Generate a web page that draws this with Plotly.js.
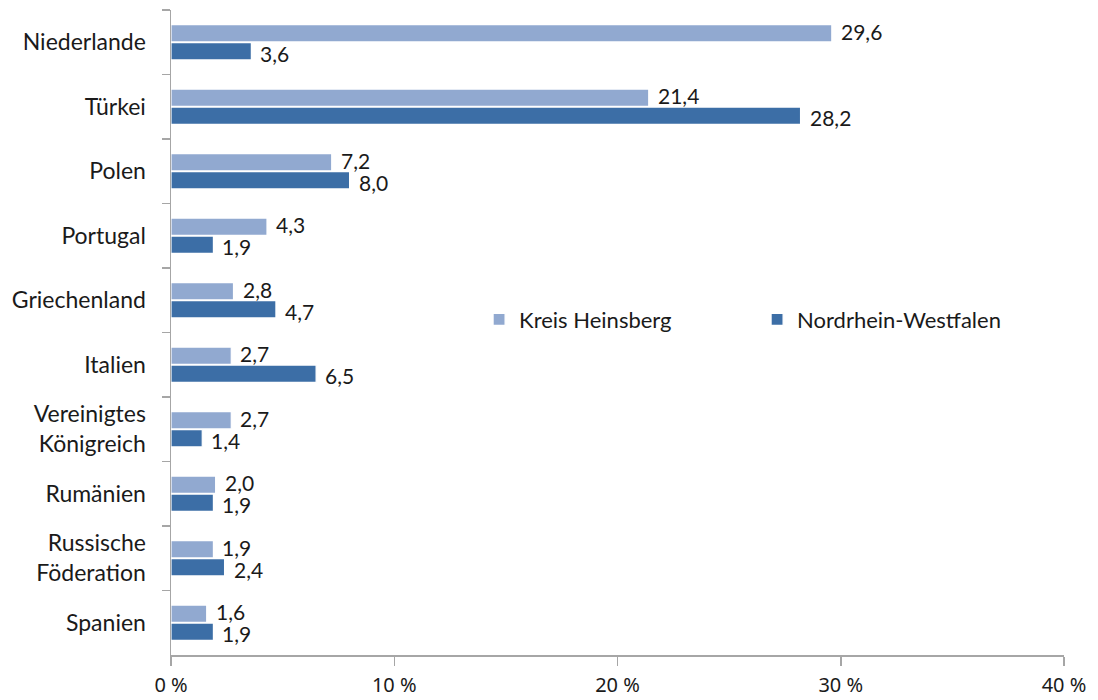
<!DOCTYPE html>
<html>
<head>
<meta charset="utf-8">
<script src="https://cdn.plot.ly/plotly-3.0.1.min.js"></script>
<style>html,body{margin:0;padding:0;background:#fff;}#chart{width:1098px;height:700px;}</style>
</head>
<body>
<div id="chart"></div>
<script>
var categories = ["Niederlande", "Türkei", "Polen", "Portugal", "Griechenland", "Italien",
  "Vereinigtes<br>Königreich", "Rumänien", "Russische<br>Föderation", "Spanien"];
var seriesNames = ["Kreis Heinsberg", "Nordrhein-Westfalen"];
var heinsberg = [29.6, 21.4, 7.2, 4.3, 2.8, 2.7, 2.7, 2.0, 1.9, 1.6];
var nrw = [3.6, 28.2, 8.0, 1.9, 4.7, 6.5, 1.4, 1.9, 2.4, 1.9];
var xTickVals = [0, 10, 20, 30, 40];
var xTickText = ["0 %", "10 %", "20 %", "30 %", "40 %"];

function fmt(v){ return v.toFixed(1).replace('.', ','); }

var labelFont = {family: "Lato, 'Noto Sans', sans-serif", size: 21, color: "#1a1a1a"};

var traces = [
  {type: "bar", orientation: "h", name: seriesNames[0], y: categories, x: heinsberg,
   marker: {color: "#91A9D0", line: {color: "#ffffff", width: 1.2}}, hoverinfo: "x+y"},
  {type: "bar", orientation: "h", name: seriesNames[1], y: categories, x: nrw,
   marker: {color: "#3C6EA6", line: {color: "#ffffff", width: 1.2}}, hoverinfo: "x+y"}
];

var annotations = [];
categories.forEach(function(c, i){
  annotations.push({x: heinsberg[i], y: c, xref: "x", yref: "y", text: fmt(heinsberg[i]),
    showarrow: false, xanchor: "left", yanchor: "middle", xshift: 7, yshift: 11, font: labelFont});
  annotations.push({x: nrw[i], y: c, xref: "x", yref: "y", text: fmt(nrw[i]),
    showarrow: false, xanchor: "left", yanchor: "middle", xshift: 7, yshift: -11, font: labelFont});
});

var layout = {
  width: 1098, height: 700,
  margin: {l: 171, r: 34, t: 10, b: 45},
  paper_bgcolor: "#ffffff", plot_bgcolor: "#ffffff",
  barmode: "group", bargap: 0.44, bargroupgap: 0.04,
  showlegend: true,
  annotations: annotations,
  legend: {orientation: "h", x: 0.345, y: 0.52, xanchor: "left", yanchor: "middle",
    font: {family: "Lato, 'Noto Sans', sans-serif", size: 22, color: "#1a1a1a"},
    entrywidth: 233, itemwidth: 30, bgcolor: "rgba(0,0,0,0)"},
  xaxis: {range: [0, 40], tickvals: xTickVals, ticktext: xTickText,
    showgrid: false, zeroline: false, showline: true, linecolor: "#A6A6A6", linewidth: 1.5,
    ticks: "outside", ticklen: 9, tickcolor: "#A6A6A6", tickwidth: 1.5,
    ticklabelstandoff: 2,
    tickfont: {family: "'Liberation Sans Narrow', 'Arial Narrow', 'Noto Sans', sans-serif", size: 20, color: "#1a1a1a"},
    fixedrange: true},
  yaxis: {type: "category", autorange: "reversed", tickson: "boundaries",
    showgrid: false, zeroline: false, showline: true, linecolor: "#A6A6A6", linewidth: 1.5,
    ticks: "outside", ticklen: 8, tickcolor: "#A6A6A6", tickwidth: 1.5,
    ticklabelstandoff: 19,
    tickfont: {family: "Lato, 'Noto Sans', sans-serif", size: 23, color: "#1a1a1a"},
    fixedrange: true}
};

Plotly.newPlot("chart", traces, layout, {displayModeBar: false, staticPlot: true});
</script>
</body>
</html>
